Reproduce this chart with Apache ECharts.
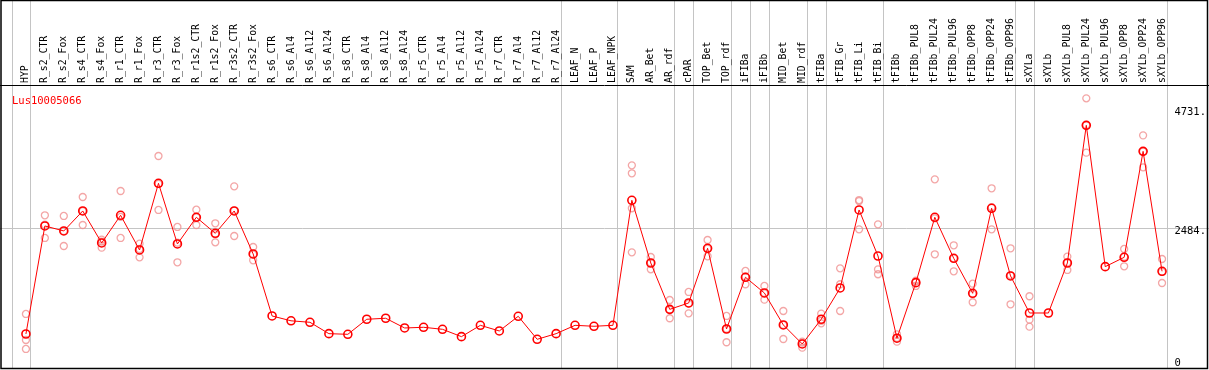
<!DOCTYPE html>
<html>
<head>
<meta charset="utf-8">
<script src="https://cdn.jsdelivr.net/npm/echarts@6/dist/echarts.min.js"></script>
<style>
html,body{margin:0;padding:0;background:#fff;}
#chart{width:1209px;height:370px;}
</style>
</head>
<body>
<div id="chart"></div>
<script>
const title = 'Lus10005066';
const categories = ['HYP','R_s2_CTR','R_s2_Fox','R_s4_CTR','R_s4_Fox','R_r1_CTR','R_r1_Fox','R_r3_CTR','R_r3_Fox','R_r1s2_CTR','R_r1s2_Fox','R_r3s2_CTR','R_r3s2_Fox','R_s6_CTR','R_s6_Al4','R_s6_Al12','R_s6_Al24','R_s8_CTR','R_s8_Al4','R_s8_Al12','R_s8_Al24','R_r5_CTR','R_r5_Al4','R_r5_Al12','R_r5_Al24','R_r7_CTR','R_r7_Al4','R_r7_Al12','R_r7_Al24','LEAF_N','LEAF_P','LEAF_NPK','SAM','AR_Bet','AR_rdf','cPAR','TOP_Bet','TOP_rdf','iFIBa','iFIBb','MID_Bet','MID_rdf','tFIBa','tFIB_Gr','tFIB_Li','tFIB_Bi','tFIBb','tFIBb_PUL8','tFIBb_PUL24','tFIBb_PUL96','tFIBb_OPP8','tFIBb_OPP24','tFIBb_OPP96','sXYLa','sXYLb','sXYLb_PUL8','sXYLb_PUL24','sXYLb_PUL96','sXYLb_OPP8','sXYLb_OPP24','sXYLb_OPP96'];
const means = [489,2522,2428,2804,2202,2723,2070,3325,2183,2685,2384,2804,1995,828,737,709,495,483,766,785,602,615,577,439,652,546,822,389,495,652,634,652,3005,1825,953,1073,2102,583,1556,1261,659,301,766,1355,2823,1957,410,1455,2685,1913,1255,2855,1581,884,884,1825,4416,1756,1932,3926,1669];
const replicates = [
  [866,376,207],[2723,2547,2296],[2710,2429,2145],[3067,2804,2540],[2264,2228,2114],
  [3180,2692,2296],[2189,2089,1932],[3839,3314,2823],[2503,2208,1838],[2829,2686,2540],
  [2572,2366,2214],[3268,2811,2333],[2126,1983,1876],
  [],[],[],[],[],[],[],[],[],[],[],[],[],[],[],[],[],[],[],
  [3663,3513,2855,2026],[1938,1832,1706],[1129,945,785],[1280,1060,878],[2258,2097,1951],
  [828,589,333],[1675,1568,1425],[1393,1255,1135],[922,660,395],[345,326,232],
  [872,736,690],[1725,1425,922],[3010,2990,2459],[2553,1706,1613],[483,414,345],
  [1493,1480,1393],[3400,2666,1989],[2158,1913,1669],[1436,1243,1086],[3231,2875,2459],
  [2102,1593,1048],[1199,759,627],[],[1945,1836,1694],[4924,4422,3902],[],
  [2089,1944,1763],[4227,3925,3626],[1900,1658,1449]
];
const yTickValues = [0, 2484, 4731];
const gridLineValues = [2484];
const groupEnds = [-1, 0, 28, 31, 34, 35, 37, 38, 39, 41, 42, 45, 52, 53, 60];

const MONO = 'DejaVu Sans Mono';
const chart = echarts.init(document.getElementById('chart'), null, {renderer: 'canvas'});

const meanData = means.map((v, i) => [i, v]);
const repData = [];
replicates.forEach((arr, i) => arr.forEach(v => repData.push([i, v])));

chart.setOption({
  animation: false,
  backgroundColor: '#ffffff',
  title: {
    text: title, left: 7, top: 91,
    textStyle: {color: '#ff0000', fontSize: 10.5, fontWeight: 'normal', fontFamily: MONO}
  },
  grid: {left: 7, top: 85, width: 1170.4, height: 284, containLabel: false},
  xAxis: {
    type: 'value', position: 'top', min: -1, max: 60.6, interval: 1,
    axisLine: {show: false}, axisTick: {show: false}, splitLine: {show: false},
    axisLabel: {
      rotate: 90, margin: 2, fontSize: 9.8, fontFamily: MONO, color: '#000',
      showMinLabel: true, showMaxLabel: true, hideOverlap: false,
      formatter: v => (Number.isInteger(v) && categories[v]) ? categories[v] : ''
    }
  },
  yAxis: {
    type: 'value', position: 'right', min: -170, max: 5175,
    axisLine: {show: false}, axisTick: {show: false}, splitLine: {show: false},
    axisLabel: {
      customValues: yTickValues, margin: 1, align: 'left', verticalAlign: 'top',
      padding: [-2, 0, 0, 0],
      fontSize: 10.5, fontFamily: MONO, color: '#000',
      formatter: v => v === 0 ? '0' : v + '.'
    }
  },
  series: [
    {
      type: 'scatter', data: repData, symbol: 'circle', symbolSize: 7,
      itemStyle: {color: 'rgba(0,0,0,0)', borderColor: '#f09090', borderWidth: 1.3},
      z: 2
    },
    {
      type: 'line', data: meanData, symbol: 'circle', symbolSize: 8,
      lineStyle: {color: '#ff0000', width: 1},
      itemStyle: {color: 'rgba(0,0,0,0)', borderColor: '#ff0000', borderWidth: 1.6},
      z: 3
    }
  ]
});

function drawDecor() {
  const g = [];
  groupEnds.forEach(e => {
    const x = Math.round(chart.convertToPixel({xAxisIndex: 0}, e + 0.24)) + 0.5;
    g.push({type: 'line', shape: {x1: x, y1: 0, x2: x, y2: 369}, style: {stroke: '#c4c4c4', lineWidth: 1}, z: 0, silent: true});
  });
  gridLineValues.forEach(v => {
    const y = Math.round(chart.convertToPixel({yAxisIndex: 0}, v)) + 0.5;
    g.push({type: 'line', shape: {x1: 0, y1: y, x2: 1209, y2: y}, style: {stroke: '#c4c4c4', lineWidth: 1}, z: 0, silent: true});
  });
  g.push({type: 'line', shape: {x1: 0, y1: 85.5, x2: 1209, y2: 85.5}, style: {stroke: '#000', lineWidth: 1}, z: 1, silent: true});
  g.push({type: 'rect', shape: {x: 1, y: 0.5, width: 1206.5, height: 368}, style: {fill: 'none', stroke: '#000', lineWidth: 1.5}, z: 1, silent: true});
  chart.setOption({graphic: {elements: g}});
}
drawDecor();
</script>
</body>
</html>
